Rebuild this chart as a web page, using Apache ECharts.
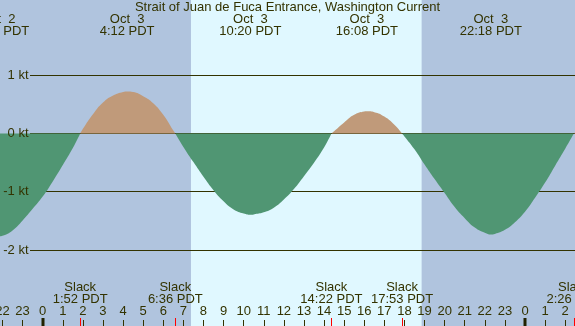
<!DOCTYPE html>
<html><head><meta charset="utf-8">
<script src="https://cdn.jsdelivr.net/npm/echarts@6/dist/echarts.min.js"></script>
<style>html,body{margin:0;padding:0;background:#b0c4de}#c{width:575px;height:326px}</style>
</head><body><div id="c"></div>
<script>
// hours from Oct 3 00:00 PDT, current speed in knots (+ flood, - ebb)
const hours = [-3,-2.217,-2,-1.5,-1,-0.5,0,0.5,1,1.5,1.867,2,2.5,3,3.5,4,4.2,4.5,5,5.5,6,6.5,6.6,7,7.5,8,8.5,9,9.5,10,10.333,10.5,11,11.5,12,12.5,13,13.5,14,14.367,14.5,15,15.5,16,16.133,16.5,17,17.5,17.883,18,18.5,19,19.5,20,20.5,21,21.5,22,22.3,22.5,23,23.5,24,24.5,25,25.5,26,26.433,27];
const speeds = [-1.68,-1.76,-1.75,-1.66,-1.49,-1.29,-1.08,-0.82,-0.54,-0.25,0,0.08,0.33,0.53,0.65,0.71,0.72,0.71,0.64,0.52,0.32,0.05,0,-0.23,-0.49,-0.74,-0.97,-1.16,-1.30,-1.37,-1.39,-1.385,-1.35,-1.27,-1.13,-0.95,-0.73,-0.50,-0.24,0,0.04,0.19,0.32,0.375,0.38,0.365,0.29,0.15,0,-0.05,-0.27,-0.53,-0.78,-1.02,-1.26,-1.45,-1.61,-1.70,-1.73,-1.72,-1.65,-1.52,-1.34,-1.10,-0.84,-0.55,-0.26,0,0.2];
const maxTimes = [-2.217, 4.2, 10.333, 16.133, 22.3];
const maxDates = ['Oct  2','Oct  3','Oct  3','Oct  3','Oct  3'];
const maxClocks = ['21:47 PDT','4:12 PDT','10:20 PDT','16:08 PDT','22:18 PDT'];
const slackTimes = [1.867, 6.6, 14.367, 17.883, 26.433];
const slackClocks = ['1:52 PDT','6:36 PDT','14:22 PDT','17:53 PDT','2:26 PDT'];
const midnights = [0, 24];
const daylight = [7.378, 18.856];
const gridLevels = [1, 0, -1, -2];
const levelLabels = ['1 kt','0 kt','-1 kt','-2 kt'];
const titleText = 'Strait of Juan de Fuca Entrance, Washington Current';

const INK = '#333300';
const FONT = '13px "Liberation Sans", Arial, sans-serif';
const W = 575, H = 326;

const chart = echarts.init(document.getElementById('c'), null, {renderer:'canvas'});

function txt(x, y, s, align) {
  return {type:'text', x:x, y:y, style:{text:s, font:FONT, fill:INK, align:align||'center', verticalAlign:'middle'}};
}

chart.setOption({
  animation:false,
  title:{text:titleText, left:'center', top:1, padding:0, textStyle:{fontSize:13, fontWeight:'normal', color:INK, fontFamily:'Liberation Sans'}},
  grid:{left:-17.59, right:-10.3, top:0, bottom:0, show:true, backgroundColor:'#b0c4de', borderWidth:0, containLabel:false, outerBoundsMode:'none'},
  xAxis:{type:'value', min:-3, max:27, interval:1,
    axisLine:{show:false, onZero:false}, splitLine:{show:false},
    axisTick:{show:true, inside:true, length:6, lineStyle:{color:INK, width:1}},
    axisLabel:{inside:true, margin:8, color:INK, fontSize:13, fontFamily:'Liberation Sans',
      formatter:v => String(((Math.round(v) % 24) + 24) % 24)}},
  yAxis:{type:'value', min:-3.296, max:2.286, show:false},
  series:[
    {type:'custom', z:0, silent:true, data:[[daylight[0], daylight[1]]], encode:{x:[0,1]},
      renderItem:(p, api) => {
        const x0 = api.coord([api.value(0), 0])[0], x1 = api.coord([api.value(1), 0])[0];
        return {type:'rect', shape:{x:x0, y:p.coordSys.y, width:x1-x0, height:p.coordSys.height}, style:{fill:'#e0f8ff'}};
      }},
    {type:'custom', z:1, silent:true, data:gridLevels.map(v => [0, v]),
      renderItem:(p, api) => {
        const y = Math.round(api.coord([0, api.value(1)])[1] - 0.5) + 0.5;
        return {type:'line', shape:{x1:30, y1:y, x2:p.coordSys.x + p.coordSys.width, y2:y}, style:{stroke:INK, lineWidth:1}};
      }},
    {type:'line', z:3, silent:true, symbol:'none', smooth:0.5, connectNulls:false,
      data:hours.map((h,i) => [h, speeds[i] >= 0 ? speeds[i] : '-']),
      lineStyle:{width:0}, areaStyle:{color:'#c09a7a', opacity:1}},
    {type:'line', z:3, silent:true, symbol:'none', smooth:0.5, connectNulls:false,
      data:hours.map((h,i) => [h, speeds[i] <= 0 ? speeds[i] : '-']),
      lineStyle:{width:0}, areaStyle:{color:'#509673', opacity:1}},
    {type:'custom', z:10, silent:true, data:gridLevels.map((v,i) => [0, v, i]),
      renderItem:(p, api) => {
        const y = api.coord([0, api.value(1)])[1];
        return txt(28.5, y, levelLabels[api.value(2)], 'right');
      }},
    {type:'custom', z:10, silent:true, data:maxTimes.map((t,i) => [t, 0, i]),
      renderItem:(p, api) => {
        const x = api.coord([api.value(0), 0])[0], i = api.value(2);
        return {type:'group', children:[txt(x, 19.5, maxDates[i]), txt(x, 31.5, maxClocks[i])]};
      }},
    {type:'custom', z:10, silent:true, data:slackTimes.map((t,i) => [t, 0, i]),
      renderItem:(p, api) => {
        const x = api.coord([api.value(0), 0])[0], i = api.value(2);
        const xr = Math.round(x);
        return {type:'group', children:[
          txt(x, 287.5, 'Slack'), txt(x, 299.5, slackClocks[i]),
          {type:'rect', shape:{x:xr, y:H-8, width:1, height:8}, style:{fill:'#ff0000'}}
        ]};
      }},
    {type:'custom', z:10, silent:true, data:midnights.map(t => [t, 0]),
      renderItem:(p, api) => {
        const x = api.coord([api.value(0), 0])[0];
        return {type:'rect', shape:{x:Math.round(x) - 1.5, y:H-8, width:3, height:8}, style:{fill:'#222200'}};
      }}
  ]
});
</script></body></html>
